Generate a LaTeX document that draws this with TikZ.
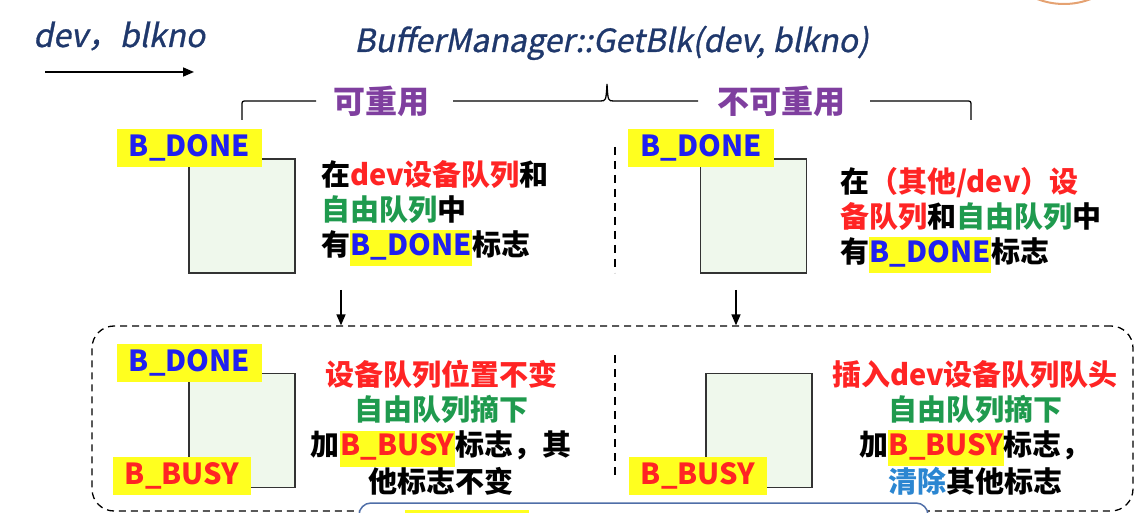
\documentclass[tikz,border=0pt]{standalone}
\usepackage{fontspec}
\setmainfont{Noto Sans CJK SC}
\newfontfamily\callfont{Noto Sans CJK SC}[FakeSlant=0.2,FakeBold=0.9]
\usetikzlibrary{arrows.meta}
\definecolor{navy}{HTML}{1F386C}
\definecolor{headpurple}{HTML}{7F3F9F}
\definecolor{qred}{HTML}{FF2424}
\definecolor{qgreen}{HTML}{1F9A4E}
\definecolor{flagblue}{HTML}{2020F0}
\definecolor{flagyellow}{HTML}{FFFF1F}
\definecolor{lblue}{HTML}{2B86D1}
\definecolor{bufgreen}{HTML}{EFF8EC}
\definecolor{boxblue}{HTML}{4F6EA8}
\definecolor{ringorange}{HTML}{E5A272}
\newcommand\tred[1]{\textcolor{qred}{#1}}
\newcommand\tgreen[1]{\textcolor{qgreen}{#1}}
\newcommand\tblue[1]{\textcolor{flagblue}{#1}}
\newcommand\tlblue[1]{\textcolor{lblue}{#1}}
\newcommand\hilite[1]{{\setlength{\fboxsep}{0.5pt}\colorbox{flagyellow}{\strut#1}}}
\begin{document}
\begin{tikzpicture}[x=1pt,y=-1pt,
  buf/.style={draw=black!80,line width=1.3pt,fill=bufgreen,minimum width=106pt,minimum height=114pt},
  flag/.style={fill=flagyellow,font=\bfseries\fontsize{29}{29}\selectfont,inner xsep=12pt,inner ysep=0pt,minimum height=38pt},
  txt/.style={font=\bfseries\fontsize{29}{35}\selectfont,inner sep=0pt},
  head/.style={text=headpurple,font=\bfseries\fontsize{32}{32}\selectfont},
  call/.style={text=navy,font=\callfont\fontsize{32}{32}\selectfont,inner sep=0pt,anchor=base west},
  stage/.style={draw,dash pattern=on 7pt off 5pt,line width=1.3pt,rounded corners=22pt,minimum width=1041pt,minimum height=185pt},
  divider/.style={dash pattern=on 8pt off 6pt,line width=1.2pt},
  flow/.style={-{Triangle[length=11pt,width=9pt]},line width=1.6pt}]
\useasboundingbox (0,0) rectangle (1136,513);
\draw[ringorange,line width=2pt] (1064,-70) circle[radius=74];
\node[call] (args) at (33,47) {dev，blkno};
\coordinate (inA) at (45,72); \coordinate (inB) at (194,72); \draw[flow] (inA) -- (inB);
\node[call] (getblk) at (354,52) {BufferManager::GetBlk(dev, blkno)};
\node[head] (reuse) at (381,101) {可重用}; \node[head] (noreuse) at (781,101) {不可重用};
\draw[line width=1.3pt] (242,120) -- (242,106) .. controls (242,101) .. (247,101) -- (316,101) (453,101) -- (600,101) .. controls (606,101) .. (607,84) .. controls (608,101) .. (614,101) -- (698,101) (870,101) -- (966,101) .. controls (971,101) .. (971,106) -- (971,120);
\draw[divider] (615,147) -- (615,273); \draw[divider] (615,355) -- (615,480);
\node[buf] (bufA) at (242,216) {}; \node[flag,text=flagblue] (doneA) at (189.5,148) {B\_DONE};
\node[buf] (bufB) at (753.5,216) {}; \node[flag,text=flagblue] (doneB) at (701,148) {B\_DONE};
\node[txt,anchor=north west,align=left] (condA) at (321,160) {在\tred{dev设备队列}和\\\tgreen{自由队列}中\\有\hilite{\tblue{B\_DONE}}标志};
\node[txt,anchor=north west,align=left] (condB) at (840,167) {在\tred{（其他/dev）设}\\\tred{备队列}和\tgreen{自由队列}中\\有\hilite{\tblue{B\_DONE}}标志};
\node[stage] (result) at (612.5,418.5) {};
\coordinate (dA) at (341,290); \draw[flow] (dA) -- (dA |- result.north);
\coordinate (dB) at (736,290); \draw[flow] (dB) -- (dB |- result.north);
\node[buf] (bufC) at (242,430.5) {}; \node[flag,text=flagblue] (doneC) at (189.5,363) {B\_DONE}; \node[flag,text=qred] (busyC) at (182,476) {B\_BUSY};
\node[buf] (bufD) at (759,430.5) {}; \node[flag,text=qred] (busyD) at (698,476) {B\_BUSY};
\node[txt,anchor=north,align=center] (actA) at (441,360) {\tred{设备队列位置不变}\\\tgreen{自由队列摘下}\\加\hilite{\tred{B\_BUSY}}标志，其\\他标志不变};
\node[txt,anchor=north,align=center] (actB) at (975,360) {\tred{插入dev设备队列队头}\\\tgreen{自由队列摘下}\\加\hilite{\tred{B\_BUSY}}标志，\\\tlblue{清除}其他标志};
\draw[boxblue,line width=1.5pt,fill=white,rounded corners=12pt] (359,540) rectangle (928,503);
\fill[flagyellow] (405,510) rectangle (529,530);
\end{tikzpicture}
\end{document}
